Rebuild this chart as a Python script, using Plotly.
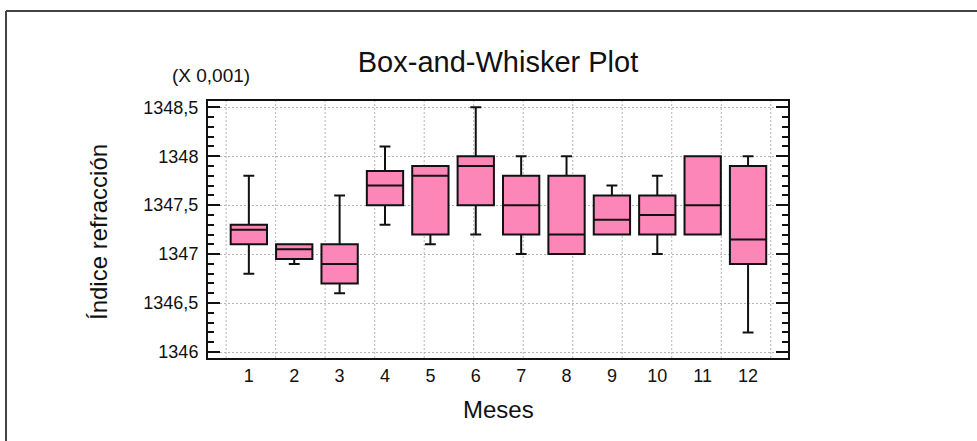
import plotly.graph_objects as go

# Monthly refractive index summaries (units of 0.001)
meses = list(range(1, 13))
bigote_inf = [1346.8, 1346.9, 1346.6, 1347.3, 1347.1, 1347.2, 1347.0, 1347.0, 1347.2, 1347.0, 1347.2, 1346.2]
cuartil_1 = [1347.1, 1346.95, 1346.7, 1347.5, 1347.2, 1347.5, 1347.2, 1347.0, 1347.2, 1347.2, 1347.2, 1346.9]
mediana = [1347.25, 1347.05, 1346.9, 1347.7, 1347.8, 1347.9, 1347.5, 1347.2, 1347.35, 1347.4, 1347.5, 1347.15]
cuartil_3 = [1347.3, 1347.1, 1347.1, 1347.85, 1347.9, 1348.0, 1347.8, 1347.8, 1347.6, 1347.6, 1348.0, 1347.9]
bigote_sup = [1347.8, 1347.1, 1347.6, 1348.1, 1347.9, 1348.5, 1348.0, 1348.0, 1347.7, 1347.8, 1348.0, 1348.0]

# y-axis ticks and their labels (decimal comma, no thousands separator)
y_ticks = [1346, 1346.5, 1347, 1347.5, 1348, 1348.5]
y_labels = ["1346", "1346,5", "1347", "1347,5", "1348", "1348,5"]

FONT = "Liberation Sans, Arial, sans-serif"
PINK = "#FC86B8"
GRID = "#b4b4b4"
GRID_DASH = "2px,2px"

W, H = 977, 441
ML, MR, MT, MB = 208, 189, 101, 83
PW, PH = W - ML - MR, H - MT - MB


def px(x):
    return (x - ML) / PW


def py(y):
    return (H - MB - y) / PH


fig = go.Figure()
fig.add_trace(go.Box(
    x=meses,
    q1=cuartil_1,
    median=mediana,
    q3=cuartil_3,
    lowerfence=bigote_inf,
    upperfence=bigote_sup,
    boxpoints=False,
    width=0.8,
    whiskerwidth=0.3,
    fillcolor=PINK,
    line=dict(color="#111111", width=2),
    showlegend=False,
    hoverinfo="skip",
))

x_range = [0.1, 12.88]
shapes = []
# vertical dotted grid: 12 lines evenly spread over [0.5, 12.5]
for k in range(12):
    gx = 0.5 + k * 12 / 11
    shapes.append(dict(type="line", xref="x", yref="paper", x0=gx, x1=gx, y0=0, y1=1,
                       line=dict(color=GRID, width=1, dash=GRID_DASH), layer="below"))
# outer frame (top and left edges)
shapes.append(dict(type="line", xref="paper", yref="paper", x0=px(6), x1=px(980), y0=py(11), y1=py(11),
                   line=dict(color="#444444", width=2)))
shapes.append(dict(type="line", xref="paper", yref="paper", x0=px(6), x1=px(6), y0=py(11), y1=py(445),
                   line=dict(color="#444444", width=2)))

fig.update_layout(
    width=W, height=H,
    margin=dict(l=ML, r=MR, t=MT, b=MB, autoexpand=False),
    paper_bgcolor="white", plot_bgcolor="white",
    font=dict(family=FONT, color="#111111"),
    title=dict(text="Box-and-Whisker Plot", x=0.5, xref="paper", y=1 - 62 / H, yanchor="middle",
               font=dict(size=29, family=FONT, color="#111111")),
    shapes=shapes,
    annotations=[
        dict(text="(X 0,001)", xref="paper", yref="paper", x=px(211), y=py(76), showarrow=False,
             xanchor="center", yanchor="middle", font=dict(size=19, family=FONT)),
        dict(text="Meses", xref="paper", yref="paper", x=0.5, y=py(409), showarrow=False,
             xanchor="center", yanchor="middle", font=dict(size=24, family=FONT)),
        dict(text="Índice refracción", xref="paper", yref="paper", x=px(98), y=py(232), showarrow=False,
             textangle=-90, xanchor="center", yanchor="middle", font=dict(size=24, family=FONT)),
    ],
    xaxis=dict(
        range=x_range, tickmode="array", tickvals=meses, ticks="", showgrid=False, zeroline=False,
        showline=True, linewidth=2, linecolor="#111111", mirror=True,
        tickfont=dict(size=18, family=FONT),
    ),
    yaxis=dict(
        range=[1345.939, 1348.564], tickmode="array", tickvals=y_ticks, ticktext=y_labels,
        ticks="inside", ticklen=12, tickwidth=2,
        tickcolor="#111111", showline=True, linewidth=2, linecolor="#111111", mirror="ticks",
        showgrid=True, gridcolor=GRID, gridwidth=1, griddash=GRID_DASH, zeroline=False,
        tickfont=dict(size=18, family=FONT), ticklabelstandoff=4,
        minor=dict(tickmode="linear", dtick=0.1, tick0=1346, ticks="inside", ticklen=6, tickwidth=2,
                   tickcolor="#111111", showgrid=False),
    ),
)

fig.write_html("out.html")
